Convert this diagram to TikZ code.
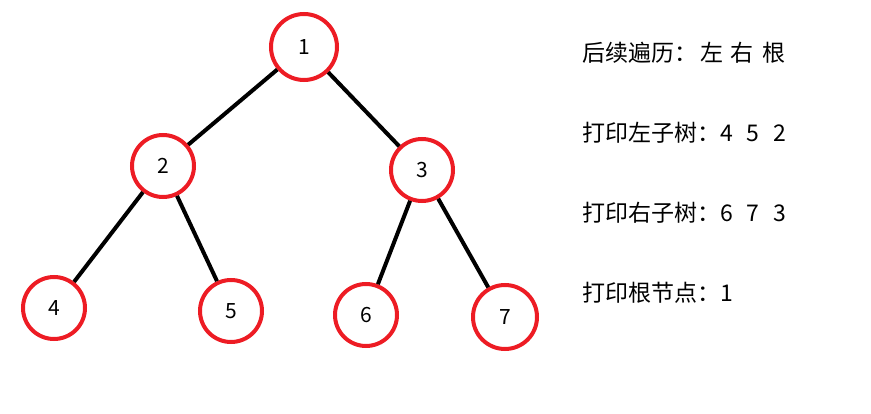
\documentclass[tikz,border=0pt]{standalone}
\usepackage{fontspec}
\setmainfont{Noto Sans CJK SC}
\begin{document}
\begin{tikzpicture}[x=1pt,y=-1pt,
  tnode/.style={circle,draw={rgb,255:red,237;green,28;blue,36},line width=4pt,inner sep=0pt,font=\fontsize{21}{24}\selectfont},
  edge/.style={line width=4pt,black},
  txt/.style={anchor=west,inner sep=0pt,font=\fontsize{23}{26}\selectfont}]
\useasboundingbox (0,0) rectangle (871,414);
\node[tnode,minimum width=66pt,minimum height=66pt] (n1) at (304,47) {1};
\node[tnode,minimum width=60pt,minimum height=62pt] (n2) at (163,166) {2};
\node[tnode,minimum width=60pt,minimum height=62pt] (n3) at (422,170) {3};
\node[tnode,minimum width=62pt,minimum height=62pt] (n4) at (54,308) {4};
\node[tnode,minimum width=62pt,minimum height=62pt] (n5) at (231,311) {5};
\node[tnode,minimum width=60pt,minimum height=62pt] (n6) at (366,315) {6};
\node[tnode,minimum width=64pt,minimum height=62pt] (n7) at (505,317) {7};
\draw[edge] (n1) -- (n2);
\draw[edge] (n1) -- (n3);
\draw[edge] (n2) -- (n4);
\draw[edge] (n2) -- (n5);
\draw[edge] (n3) -- (n6);
\draw[edge] (n3) -- (n7);
\node[txt] (t1) at (582,53) {后续遍历：\hspace{3pt}左\hspace{7pt}右\hspace{9pt}根};
\node[txt] (t2) at (582,133) {打印左子树：4\hspace{14pt}5\hspace{14pt}2};
\node[txt] (t3) at (582,213) {打印右子树：6\hspace{14pt}7\hspace{14pt}3};
\node[txt] (t4) at (582,293) {打印根节点：1};
\end{tikzpicture}
\end{document}
